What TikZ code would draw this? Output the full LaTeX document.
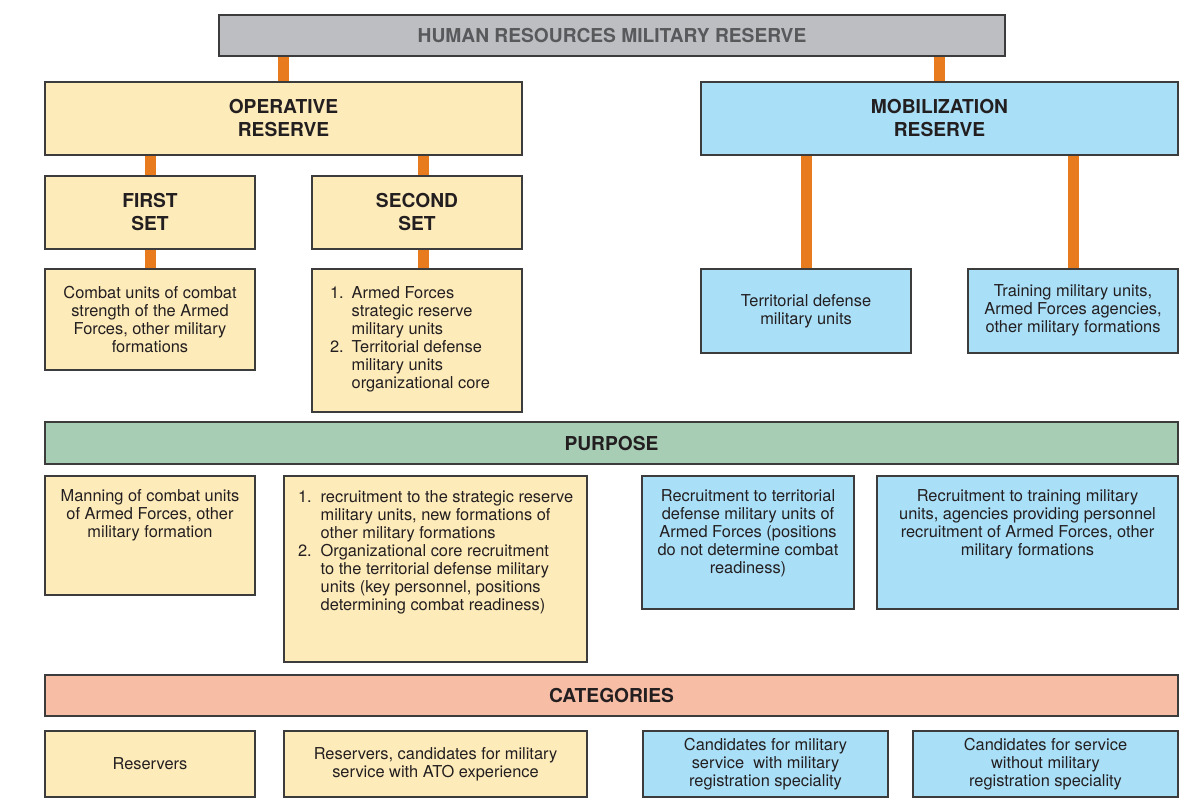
\documentclass[tikz,border=0pt]{standalone}
\usepackage{fontspec}
\setmainfont{TeX Gyre Heros}

\definecolor{topgrey}{HTML}{BDBEC1}
\definecolor{topink}{HTML}{58595B}
\definecolor{opyellow}{HTML}{FEEBBA}
\definecolor{mobblue}{HTML}{AADFF8}
\definecolor{purpgreen}{HTML}{A8CDB5}
\definecolor{catsalmon}{HTML}{F8BDA5}
\definecolor{linkorange}{HTML}{E97B1F}
\definecolor{boxline}{HTML}{3C3C3C}
\definecolor{ink}{HTML}{231F20}

\newcommand{\bodyfont}{\fontsize{8.2}{9}\selectfont}
\newcommand{\headfont}{\fontsize{9.6}{11.5}\selectfont\bfseries}

\begin{document}
\begin{tikzpicture}[x=0.5pt, y=-0.5pt,
    box/.style={draw=boxline, line width=0.8pt, inner sep=0pt, align=center, text=ink, font=\bodyfont},
    ybox/.style={box, fill=opyellow},
    bbox/.style={box, fill=mobblue},
    head/.style={font=\headfont},
    link/.style={draw=linkorange, line width=5.5pt}]
    \useasboundingbox (0,0) rectangle (1192,802);

    % reserve tree
    \node[box, head, fill=topgrey, text=topink, minimum width=393pt, minimum height=20.5pt] (hr) at (612,35.5) {HUMAN RESOURCES MILITARY RESERVE};
    \node[ybox, head, minimum width=238.5pt, minimum height=36.5pt] (oper) at (283.5,118.5) {OPERATIVE\\RESERVE};
    \node[bbox, head, minimum width=238.5pt, minimum height=36.5pt] (mob) at (939.5,118.5) {MOBILIZATION\\RESERVE};
    \node[ybox, head, minimum width=105pt, minimum height=36.5pt] (first) at (150,212.5) {FIRST\\SET};
    \node[ybox, head, minimum width=105pt, minimum height=36.5pt] (second) at (417,212.5) {SECOND\\SET};

    \node[ybox, anchor=north, minimum width=105pt, minimum height=50.5pt] (combat) at (150,268) {Combat units of combat\\strength of the Armed\\Forces, other military\\formations};
    \node[ybox, anchor=north, minimum width=105pt, minimum height=71.5pt] (secondlist) at (417,268) {\parbox{105pt}{\hspace*{9pt}\begin{tabular}{@{}l@{\hspace{4pt}}l@{}}
        1. & Armed Forces\\ & strategic reserve\\ & military units\\
        2. & Territorial defense\\ & military units\\ & organizational core\end{tabular}}};
    \node[bbox, anchor=north, minimum width=105pt, minimum height=42pt] (terr) at (806,268) {Territorial defense\\military units};
    \node[bbox, anchor=north, minimum width=105pt, minimum height=42pt] (train) at (1073,268) {Training military units,\\Armed Forces agencies,\\other military formations};

    \draw[link] (oper.north) -- (oper.north |- hr.south);
    \draw[link] (mob.north) -- (mob.north |- hr.south);
    \draw[link] (first.north) -- (first.north |- oper.south);
    \draw[link] ([xshift=3pt]second.north) -- ([xshift=3pt]second.north |- oper.south);
    \draw[link] (combat.north) -- (first.south);
    \draw[link] ([xshift=3pt]secondlist.north) -- ([xshift=3pt]second.south);
    \draw[link] (terr.north) -- (terr.north |- mob.south);
    \draw[link] (train.north) -- (train.north |- mob.south);

    % purpose
    \node[box, head, fill=purpgreen, minimum width=566.5pt, minimum height=21pt] (purpose) at (611.5,443) {PURPOSE};
    \node[ybox, anchor=north] (manning) at (150,475) {\parbox[t][59.5pt][t]{105pt}{\centering\vspace*{7pt}Manning of combat units\\of Armed Forces, other\\military formation}};
    \node[ybox, anchor=north] (plist) at (435.5,475) {\parbox[t][93pt][t]{151.5pt}{\vspace*{7pt}\hspace*{7pt}\begin{tabular}[t]{@{}l@{\hspace{4.5pt}}l@{}}
        1. & recruitment to the strategic reserve\\ & military units, new formations of\\ & other military formations\\
        2. & Organizational core recruitment\\ & to the territorial defense military\\ & units (key personnel, positions\\ & determining combat readiness)\end{tabular}}};
    \node[bbox, anchor=north] (recterr) at (748,475) {\parbox[t][66.5pt][t]{106pt}{\centering\vspace*{7pt}Recruitment to territorial\\defense military units of\\Armed Forces (positions\\do not determine combat\\readiness)}};
    \node[bbox, anchor=north] (rectrain) at (1027.5,475) {\parbox[t][66.5pt][t]{150.5pt}{\centering\vspace*{7pt}Recruitment to training military\\units, agencies providing personnel\\recruitment of Armed Forces, other\\military formations}};

    % categories
    \node[box, head, fill=catsalmon, minimum width=566.5pt, minimum height=20.5pt] (cats) at (611.5,695.5) {CATEGORIES};
    \node[ybox, minimum width=105pt, minimum height=33pt] (reservers) at (150,764) {Reservers};
    \node[ybox, minimum width=151.5pt, minimum height=33pt] (ato) at (435.5,764) {Reservers, candidates for military\\service with ATO experience};
    \node[bbox, minimum width=122.5pt, minimum height=33pt] (withspec) at (765.5,764) {Candidates for military\\service\ \ with military\\registration speciality};
    \node[bbox, minimum width=132.5pt, minimum height=33pt] (nospec) at (1045.5,764) {Candidates for service\\without military\\registration speciality};
\end{tikzpicture}
\end{document}
